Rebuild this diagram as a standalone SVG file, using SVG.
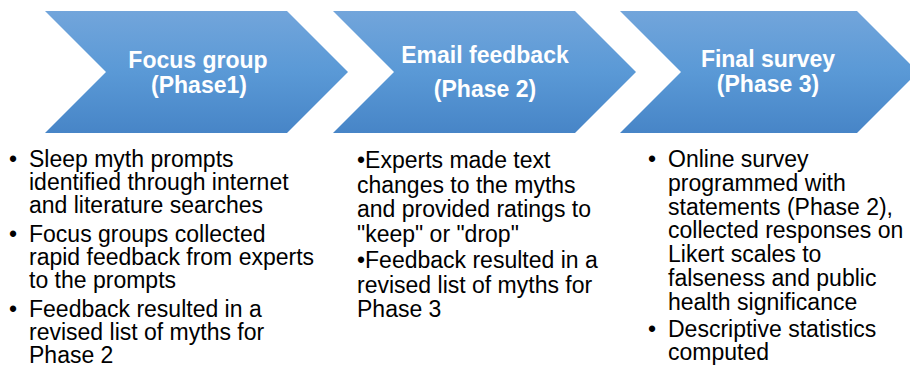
<svg xmlns="http://www.w3.org/2000/svg" width="910" height="368" viewBox="0 0 910 368">
  <defs>
    <linearGradient id="chevFill" x1="0" y1="0" x2="0" y2="1">
      <stop offset="0" stop-color="#72a5db"/>
      <stop offset="0.5" stop-color="#5a99d6"/>
      <stop offset="1" stop-color="#4785c7"/>
    </linearGradient>
    <style>
      .chev { fill: url(#chevFill); }
      .title { font-family: "Liberation Sans", Arial, sans-serif; font-size: 23px; font-weight: bold; fill: #ffffff; text-anchor: middle; }
      .body { font-family: "Liberation Sans", Arial, sans-serif; font-size: 23px; fill: #000000; }
    </style>
  </defs>
  <rect width="910" height="368" fill="#ffffff"/>

  <!-- Phase 1 -->
  <g id="phase1">
    <polygon class="chev" points="45,11 287,11 348,72 287,133 45,133 106,72"/>
    <text class="title" x="198" y="68">Focus group</text>
    <text class="title" x="199" y="93">(Phase1)</text>
  </g>

  <!-- Phase 2 -->
  <g id="phase2">
    <polygon class="chev" points="333,11 575,11 636,72 575,133 333,133 394,72"/>
    <text class="title" x="485" y="63">Email feedback</text>
    <text class="title" x="485" y="97">(Phase 2)</text>
  </g>

  <!-- Phase 3 -->
  <g id="phase3">
    <polygon class="chev" points="620,11 857,11 918,72 857,133 620,133 681,72"/>
    <text class="title" x="768" y="67">Final survey</text>
    <text class="title" x="768" y="92">(Phase 3)</text>
  </g>

  <g id="connectors"/>

  <!-- Phase 1 notes -->
  <g id="notes1" class="body">
    <text x="9" y="167">•</text>
    <text x="29" y="167">Sleep myth prompts</text>
    <text x="29" y="190">identified through internet</text>
    <text x="29" y="213">and literature searches</text>
    <text x="9" y="242">•</text>
    <text x="29" y="242">Focus groups collected</text>
    <text x="29" y="265">rapid feedback from experts</text>
    <text x="29" y="288">to the prompts</text>
    <text x="9" y="317">•</text>
    <text x="29" y="317">Feedback resulted in a</text>
    <text x="29" y="340">revised list of myths for</text>
    <text x="29" y="363">Phase 2</text>
  </g>

  <!-- Phase 2 notes -->
  <g id="notes2" class="body">
    <text x="357" y="168">•Experts made text</text>
    <text x="357" y="193">changes to the myths</text>
    <text x="357" y="217">and provided ratings to</text>
    <text x="357" y="242">"keep" or "drop"</text>
    <text x="357" y="268">•Feedback resulted in a</text>
    <text x="357" y="293">revised list of myths for</text>
    <text x="357" y="317">Phase 3</text>
  </g>

  <!-- Phase 3 notes -->
  <g id="notes3" class="body">
    <text x="648" y="167">•</text>
    <text x="668" y="167">Online survey</text>
    <text x="668" y="191">programmed with</text>
    <text x="668" y="215">statements (Phase 2),</text>
    <text x="668" y="238">collected responses on</text>
    <text x="668" y="262">Likert scales to</text>
    <text x="668" y="286">falseness and public</text>
    <text x="668" y="310">health significance</text>
    <text x="648" y="337">•</text>
    <text x="668" y="337">Descriptive statistics</text>
    <text x="668" y="360">computed</text>
  </g>
</svg>
